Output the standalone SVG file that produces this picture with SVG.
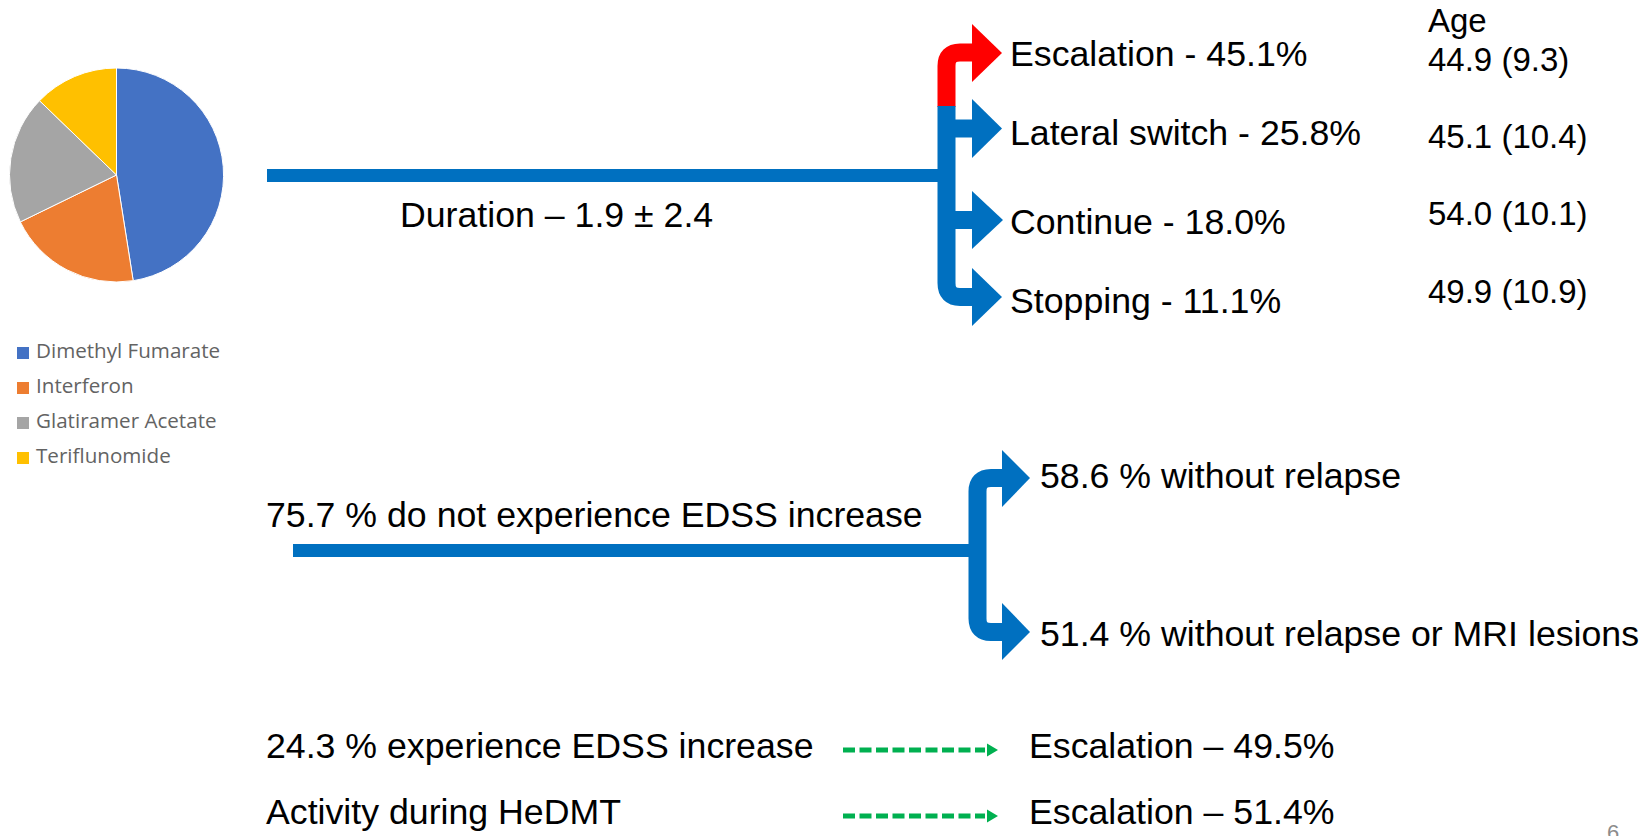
<svg xmlns="http://www.w3.org/2000/svg" width="1652" height="836" viewBox="0 0 1652 836">
  <style>
    .t { font-family: "Liberation Sans", Arial, sans-serif; fill: #000; }
    .big { font-size: 35.7px; }
    .age { font-size: 33px; }
    .leg { font-family: "Open Sans", "Liberation Sans", sans-serif; font-size: 20.6px; fill: #636363; }
    .blue { fill: none; stroke: #0070C0; stroke-width: 18; }
    .red { fill: none; stroke: #FF0000; stroke-width: 18; }
    .main { fill: none; stroke: #0070C0; stroke-width: 13; }
    .headB { fill: #0070C0; }
    .headR { fill: #FF0000; }
    .dash { fill: none; stroke: #00B050; stroke-width: 5; stroke-dasharray: 12 4.5; }
    .headG { fill: #00B050; }
    .slice { stroke: #fff; stroke-width: 1; }
  </style>

  <rect width="1652" height="836" fill="#fff"/>

  <!-- therapy share pie chart -->
  <g id="pie">
    <path class="slice" fill="#4472C4" d="M116.5,175 L116.5,68 A107,107 0 0 1 133.2,280.7 Z"/>
    <path class="slice" fill="#ED7D31" d="M116.5,175 L133.2,280.7 A107,107 0 0 1 20.3,221.9 Z"/>
    <path class="slice" fill="#A5A5A5" d="M116.5,175 L20.3,221.9 A107,107 0 0 1 39.5,100.7 Z"/>
    <path class="slice" fill="#FFC000" d="M116.5,175 L39.5,100.7 A107,107 0 0 1 116.5,68 Z"/>
  </g>

  <g id="legend">
    <rect x="17" y="347" width="12" height="12" fill="#4472C4"/>
    <text class="leg" x="36" y="358">Dimethyl Fumarate</text>
    <rect x="17" y="382" width="12" height="12" fill="#ED7D31"/>
    <text class="leg" x="36" y="393">Interferon</text>
    <rect x="17" y="417" width="12" height="12" fill="#A5A5A5"/>
    <text class="leg" x="36" y="428">Glatiramer Acetate</text>
    <rect x="17" y="452" width="12" height="12" fill="#FFC000"/>
    <text class="leg" x="36" y="463">Teriflunomide</text>
  </g>

  <!-- connectors -->
  <g id="connectors">
    <!-- upper tree -->
    <line class="main" x1="267" y1="175.5" x2="947" y2="175.5"/>
    <path class="red" d="M946.5,107 V66 Q946.5,52.5 960,52.5 H976"/>
    <polygon class="headR" points="972,24 1002,53 972,82"/>
    <path class="blue" d="M946.5,106 V283 Q946.5,297 960,297 H976"/>
    <line class="blue" x1="946.5" y1="128.5" x2="976" y2="128.5"/>
    <line class="blue" x1="946.5" y1="220" x2="976" y2="220"/>
    <polygon class="headB" points="972,99 1002,128.5 972,158"/>
    <polygon class="headB" points="972,191 1003,220 972,249"/>
    <polygon class="headB" points="972,268 1002,297 972,326"/>

    <!-- lower tree -->
    <line class="main" x1="293" y1="550.5" x2="978" y2="550.5"/>
    <path class="blue" d="M1006,478 H991 Q977.5,478 977.5,491.5 V618.5 Q977.5,632 991,632 H1006"/>
    <polygon class="headB" points="1002,450 1030,478 1002,507"/>
    <polygon class="headB" points="1002,603 1030,632 1002,660"/>

    <!-- dashed outcome arrows -->
    <line class="dash" x1="843" y1="750" x2="985" y2="750"/>
    <polygon class="headG" points="987,743.5 998,750 987,756.5"/>
    <line class="dash" x1="843" y1="816" x2="985" y2="816"/>
    <polygon class="headG" points="987,809.5 998,816 987,822.5"/>
  </g>

  <g id="duration">
    <text class="t big" x="400" y="227">Duration – 1.9 ± 2.4</text>
  </g>

  <g id="escalation">
    <text class="t big" x="1010" y="66">Escalation - 45.1%</text>
  </g>
  <g id="lateral">
    <text class="t big" x="1010" y="145">Lateral switch - 25.8%</text>
  </g>
  <g id="continue">
    <text class="t big" x="1010" y="234">Continue - 18.0%</text>
  </g>
  <g id="stopping">
    <text class="t big" x="1010" y="313">Stopping - 11.1%</text>
  </g>

  <g id="age">
    <text class="t age" x="1428" y="32">Age</text>
    <text class="t age" x="1428" y="71">44.9 (9.3)</text>
    <text class="t age" x="1428" y="148">45.1 (10.4)</text>
    <text class="t age" x="1428" y="225">54.0 (10.1)</text>
    <text class="t age" x="1428" y="303">49.9 (10.9)</text>
  </g>

  <g id="no-edss">
    <text class="t big" x="266" y="527">75.7 % do not experience EDSS increase</text>
  </g>
  <g id="no-relapse">
    <text class="t big" x="1040" y="488">58.6 % without relapse</text>
  </g>
  <g id="no-relapse-mri">
    <text class="t big" x="1040" y="646">51.4 % without relapse or MRI lesions</text>
  </g>

  <g id="edss-increase">
    <text class="t big" x="266" y="758">24.3 % experience EDSS increase</text>
  </g>
  <g id="activity">
    <text class="t big" x="266" y="824">Activity during HeDMT</text>
  </g>
  <g id="escalation-edss">
    <text class="t big" x="1029" y="758">Escalation – 49.5%</text>
  </g>
  <g id="escalation-activity">
    <text class="t big" x="1029" y="824">Escalation – 51.4%</text>
  </g>

  <text x="1607" y="840" font-family="Liberation Sans, Arial, sans-serif" font-size="22" fill="#8c8c8c">6</text>
</svg>
